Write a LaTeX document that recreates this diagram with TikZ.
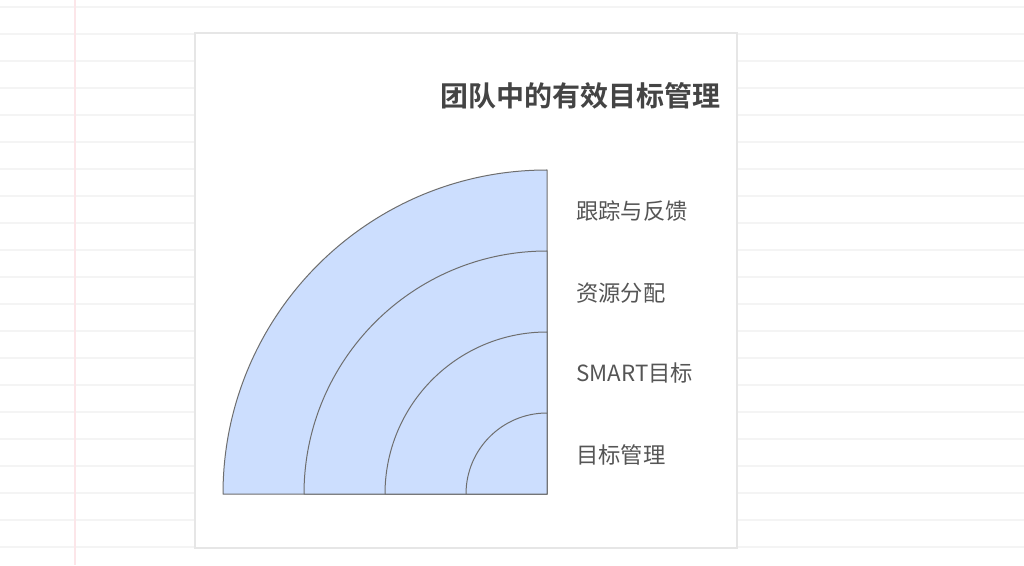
\documentclass[tikz,border=0pt]{standalone}
\usepackage{fontspec}
\newfontfamily\cjk{Noto Sans CJK SC}
\newfontfamily\cjkb{Noto Sans CJK SC Bold}
\definecolor{gridc}{HTML}{F4F4F4}
\definecolor{pinkc}{HTML}{FCE6E9}
\definecolor{cardb}{HTML}{E6E6E6}
\definecolor{fillc}{HTML}{CCDEFE}
\definecolor{strokec}{HTML}{6E6E6E}
\definecolor{titlec}{HTML}{444444}
\definecolor{labelc}{HTML}{555555}
\tikzset{
  sector/.style={fill=fillc,draw=strokec,line width=1pt,line join=round},
  lbl/.style={anchor=west,inner sep=0pt,text=labelc,font=\cjk\fontsize{22.3}{25}\selectfont},
  ttl/.style={anchor=east,inner sep=0pt,text=titlec,font=\cjkb\fontsize{28}{31}\selectfont},
}
\begin{document}
\begin{tikzpicture}[x=1pt,y=1pt]
\useasboundingbox (0,0) rectangle (1024,565);
\fill[white] (0,0) rectangle (1024,565);
% notebook lines
\foreach \i in {0,...,21}{
  \draw[gridc,line width=1.2pt] (0,{565-7-27*\i}) -- (1024,{565-7-27*\i});
}
\draw[pinkc,line width=1.2pt] (75,0) -- (75,565);
% card
\fill[white,draw=cardb,line width=1.5pt] (195,17) rectangle (737,532);
% sectors
\foreach \r in {324,243,162,81}{
  \draw[sector] (547,71) -- ({547-\r},71) arc[start angle=180,end angle=90,radius=\r] -- cycle;
}
\coordinate (c) at (547,71);
% title
\node[ttl] (title) at (721,469) {团队中的有效目标管理};
% labels
\node[lbl] (l4) at (576,354) {跟踪与反馈};
\node[lbl] (l3) at (576,272) {资源分配};
\node[lbl] (l2) at (576,192) {SMART目标};
\node[lbl] (l1) at (576,110) {目标管理};
\end{tikzpicture}
\end{document}
